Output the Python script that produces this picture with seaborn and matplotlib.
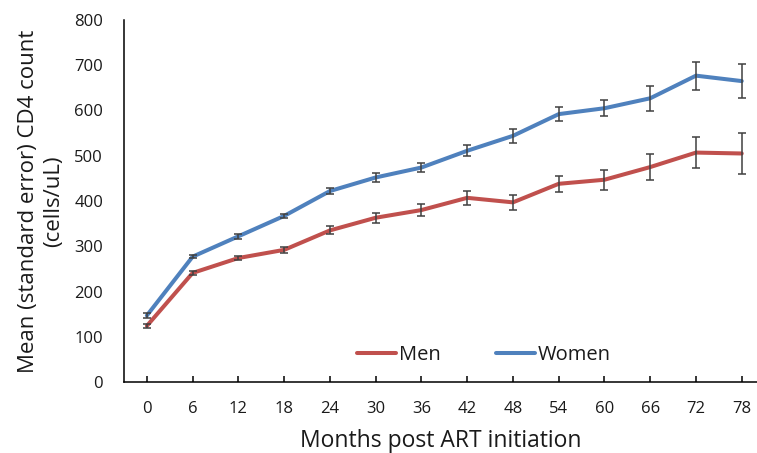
import matplotlib
matplotlib.use("Agg")
import matplotlib.pyplot as plt
import seaborn as sns
import pandas as pd
import numpy as np

months = [0, 6, 12, 18, 24, 30, 36, 42, 48, 54, 60, 66, 72, 78]
men_mean = [124, 241, 274, 292, 335, 363, 380, 407, 397, 438, 447, 475, 507, 505]
men_se = [5, 4, 5, 7, 9, 11, 14, 16, 16, 18, 22, 29, 35, 45]
women_mean = [147, 277, 322, 367, 422, 452, 474, 511, 544, 592, 605, 627, 677, 665]
women_se = [5, 4, 5, 5, 7, 9, 11, 12, 15, 16, 18, 27, 31, 37]
series_names = ["Men", "Women"]
colors = ["#C0504D", "#4F81BD"]
y_ticks = [0, 100, 200, 300, 400, 500, 600, 700, 800]

sns.set_theme(style="white")
plt.rcParams["font.family"] = ["Open Sans", "DejaVu Sans"]

df = pd.DataFrame({
    "month": months * 2,
    "mean": men_mean + women_mean,
    "se": men_se + women_se,
    "sex": [series_names[0]] * len(months) + [series_names[1]] * len(months),
})

fig = plt.figure(figsize=(7.57, 4.53), dpi=100)
ax = fig.add_axes([124 / 757, 1 - 382 / 453, 1 - 124 / 757, (382 - 20) / 453])

sns.lineplot(data=df, x="month", y="mean", hue="sex", palette=colors,
             linewidth=2.9, ax=ax, zorder=2)

for name in series_names:
    sub = df[df["sex"] == name]
    ax.errorbar(sub["month"], sub["mean"], yerr=sub["se"], fmt="none",
                ecolor="#404040", elinewidth=1.1, capsize=3.2, capthick=1.1, zorder=3)

ax.set_xlim(-3, 80)
ax.set_ylim(0, 800)
ax.set_xticks(months)
ax.set_xticklabels([str(m) for m in months])
ax.set_yticks(y_ticks)
ax.set_yticklabels([str(v) for v in y_ticks])

for s in ["top", "right"]:
    ax.spines[s].set_visible(False)
for s in ["left", "bottom"]:
    ax.spines[s].set_color("black")
    ax.spines[s].set_linewidth(1.1)

ax.tick_params(axis="x", direction="in", length=4, width=1.1, color="black",
               pad=14, labelsize=12, labelcolor="#1a1a1a", bottom=True)
ax.tick_params(axis="y", length=0, pad=15, labelsize=12, labelcolor="#1a1a1a")

ax.set_xlabel("Months post ART initiation", fontsize=16.5, color="#1a1a1a", labelpad=8)
ax.set_ylabel("Mean (standard error) CD4 count\n(cells/uL)", fontsize=16,
              color="#1a1a1a", labelpad=7, linespacing=1.3)

handles, labels = ax.get_legend_handles_labels()
leg = ax.legend(handles, labels, loc="center", ncol=2, frameon=False,
                bbox_to_anchor=(484 / 757, 1 - 355 / 453), bbox_transform=fig.transFigure,
                fontsize=14.5, handlelength=1.95, handletextpad=0.15, columnspacing=2.7)
for t in leg.get_texts():
    t.set_color("#1a1a1a")
for h in leg.get_lines():
    h.set_linewidth(2.9)

fig.savefig("out.png", dpi=100)
